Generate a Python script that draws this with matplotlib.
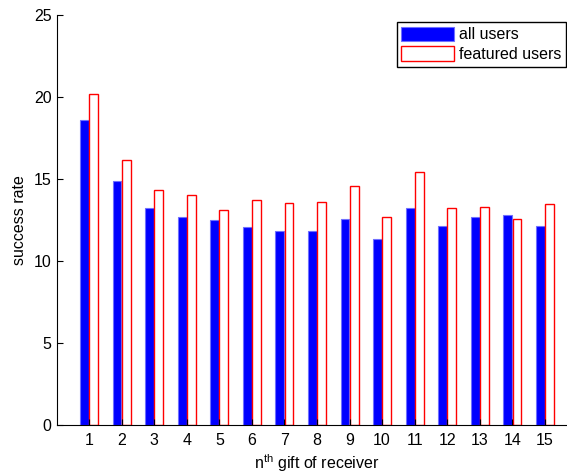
import numpy as np
import matplotlib.pyplot as plt

plt.rcParams['font.family'] = ['Liberation Sans', 'DejaVu Sans']
plt.rcParams['mathtext.default'] = 'regular'

# success rate per n-th gift, two user groups
gift_index = np.arange(1, 16)
all_users = [18.6, 14.85, 13.25, 12.7, 12.5, 12.1, 11.85, 11.85, 12.55, 11.35,
             13.25, 12.15, 12.7, 12.8, 12.15]
featured_users = [20.2, 16.15, 14.35, 14.05, 13.1, 13.7, 13.55, 13.6, 14.6, 12.7,
                  15.45, 13.25, 13.3, 12.55, 13.5]

fs = 11.5
fig = plt.figure(figsize=(5.67, 4.75), dpi=100)
# axes runs past the right edge of the figure (x range 0..16)
ax = fig.add_axes([56.5 / 567, 50 / 475, 521 / 567, 410 / 475])

w = 0.27
ax.bar(gift_index - 0.14, all_users, width=w, color='blue', edgecolor='#7070ff',
       linewidth=0.8, label='all users')
ax.bar(gift_index + 0.14, featured_users, width=w, color='white', edgecolor='red',
       linewidth=1.0, label='featured users')

ax.set_xlim(0, 16)
ax.set_ylim(0, 25)
ax.set_xticks(gift_index)
ax.set_yticks(np.arange(0, 26, 5))
ax.tick_params(direction='in', length=4, labelsize=fs, width=0.8)
ax.tick_params(axis='x', pad=6)
ax.spines['top'].set_visible(False)
ax.spines['right'].set_visible(False)
for s in ('left', 'bottom'):
    ax.spines[s].set_linewidth(0.8)

ax.set_xlabel('n$^{th}$ gift of receiver', fontsize=fs, labelpad=3)
ax.set_ylabel('success rate', fontsize=fs, labelpad=5)

leg = ax.legend(loc='upper right', bbox_to_anchor=(566 / 567, (475 - 22) / 475),
                bbox_transform=fig.transFigure, borderaxespad=0, fancybox=False,
                edgecolor='black', framealpha=1, fontsize=fs, handlelength=3.3,
                handleheight=1.0, handletextpad=0.3, borderpad=0.3, labelspacing=0.25)
leg.get_frame().set_linewidth(1.0)

fig.savefig('out.png', dpi=100)
